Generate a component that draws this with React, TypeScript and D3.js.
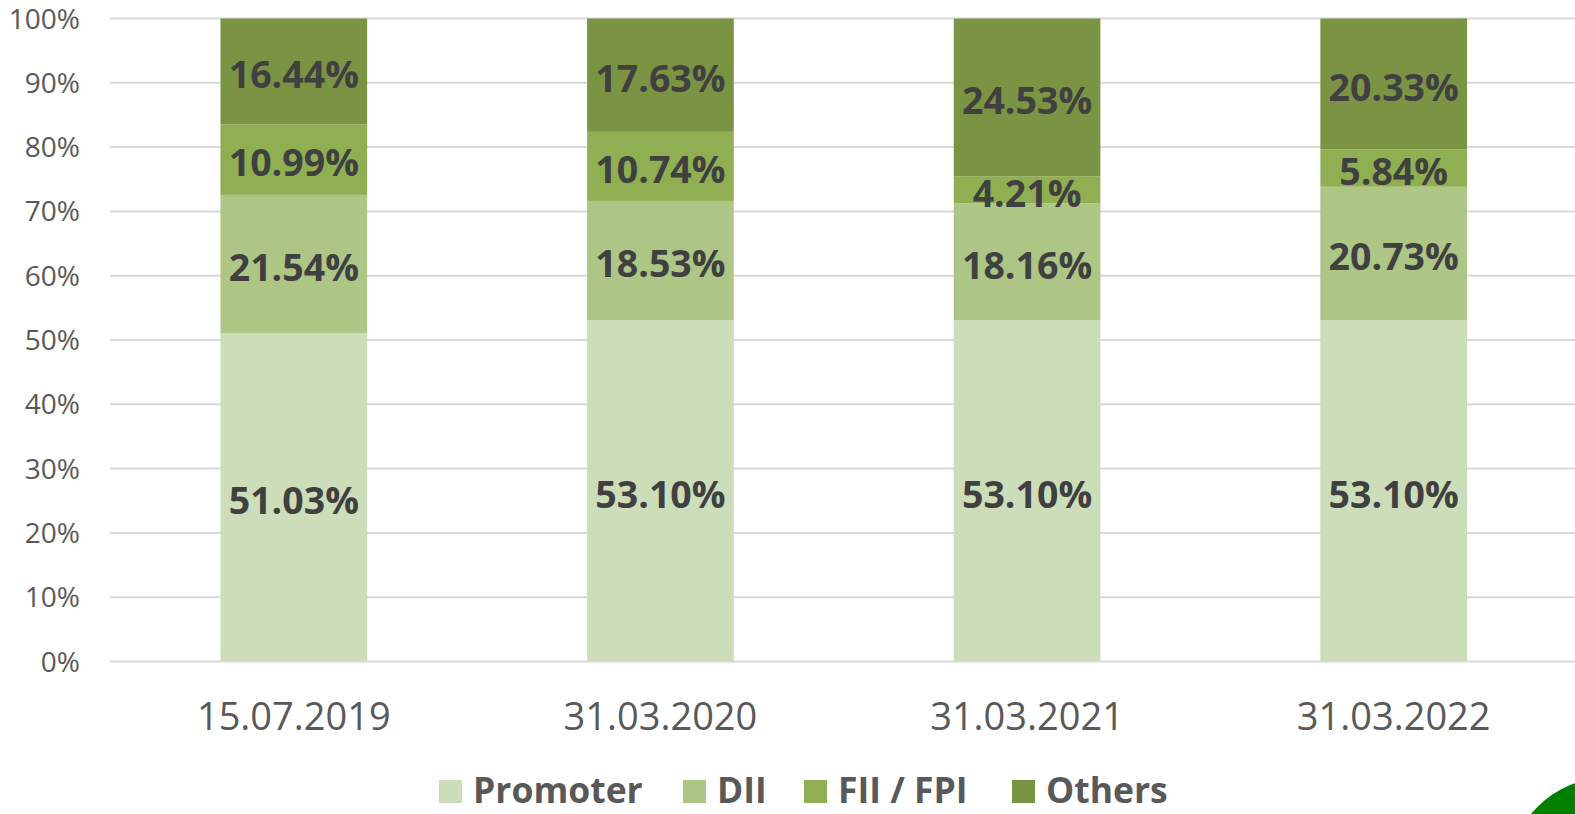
import React from "react";
import * as d3 from "d3";

const categories = ["15.07.2019", "31.03.2020", "31.03.2021", "31.03.2022"];
const seriesNames = ["Promoter", "DII", "FII / FPI", "Others"];
const promoter = [51.03, 53.1, 53.1, 53.1];
const dii = [21.54, 18.53, 18.16, 20.73];
const fii = [10.99, 10.74, 4.21, 5.84];
const others = [16.44, 17.63, 24.53, 20.33];
const yTicks = [0, 10, 20, 30, 40, 50, 60, 70, 80, 90, 100];
const colors = ["#CEDDB9", "#ADC686", "#8FAF52", "#7A9443"];

const W = 1575;
const H = 814;
const FONT = "'Open Sans', 'DejaVu Sans', sans-serif";

export default function App() {
  const seriesValues = [promoter, dii, fii, others];
  const rows = categories.map((c, i) => {
    const r: any = { cat: c };
    seriesNames.forEach((s, k) => (r[s] = seriesValues[k][i]));
    return r;
  });
  const stacked = d3.stack<any>().keys(seriesNames)(rows);

  const x = d3
    .scaleBand<string>()
    .domain(categories)
    .range([110.5, 1577])
    .paddingInner(0.6)
    .paddingOuter(0.3);
  const y = d3.scaleLinear().domain([0, 100]).range([661.5, 18.5]);

  const fmt = (v: number) => v.toFixed(2) + "%";

  const legendX = [439, 683, 804, 1012];

  return (
    <svg
      width={W}
      height={H}
      style={{ position: "absolute", left: 0, top: 0, background: "#fff" }}
    >
      <rect x={0} y={0} width={W} height={H} fill="#fff" />
      {yTicks.map((t) => (
        <g key={t}>
          <line
            x1={110}
            x2={W}
            y1={y(t)}
            y2={y(t)}
            stroke="#D9D9D9"
            strokeWidth={2}
          />
          <text
            x={80}
            y={y(t)}
            dy="0.36em"
            textAnchor="end"
            fontFamily={FONT}
            fontSize={28}
            fill="#595959"
          >
            {t}%
          </text>
        </g>
      ))}
      {stacked.map((s, k) => (
        <g key={s.key} fill={colors[k]}>
          {s.map((d, i) => (
            <rect
              key={i}
              x={x(categories[i])}
              width={x.bandwidth()}
              y={y(d[1])}
              height={y(d[0]) - y(d[1])}
            />
          ))}
        </g>
      ))}
      {stacked.map((s, k) => (
        <g key={s.key + "-l"}>
          {s.map((d, i) => (
            <text
              key={i}
              x={(x(categories[i]) as number) + x.bandwidth() / 2}
              y={y((d[0] + d[1]) / 2)}
              dy="0.45em"
              textAnchor="middle"
              fontFamily={FONT}
              fontWeight="bold"
              fontSize={37.5}
              fill="#404040"
            >
              {fmt(d[1] - d[0])}
            </text>
          ))}
        </g>
      ))}
      {categories.map((c) => (
        <text
          key={c}
          x={(x(c) as number) + x.bandwidth() / 2}
          y={730}
          textAnchor="middle"
          fontFamily={FONT}
          fontSize={38}
          fill="#595959"
        >
          {c}
        </text>
      ))}
      {seriesNames.map((s, k) => (
        <g key={s + "-lg"}>
          <rect x={legendX[k]} y={780} width={23} height={23} fill={colors[k]} />
          <text
            x={legendX[k] + 34}
            y={803}
            fontFamily={FONT}
            fontWeight="bold"
            fontSize={35.5}
            fill="#595959"
          >
            {s}
          </text>
        </g>
      ))}
      <circle cx={1610} cy={880} r={103} fill="#008000" />
    </svg>
  );
}
